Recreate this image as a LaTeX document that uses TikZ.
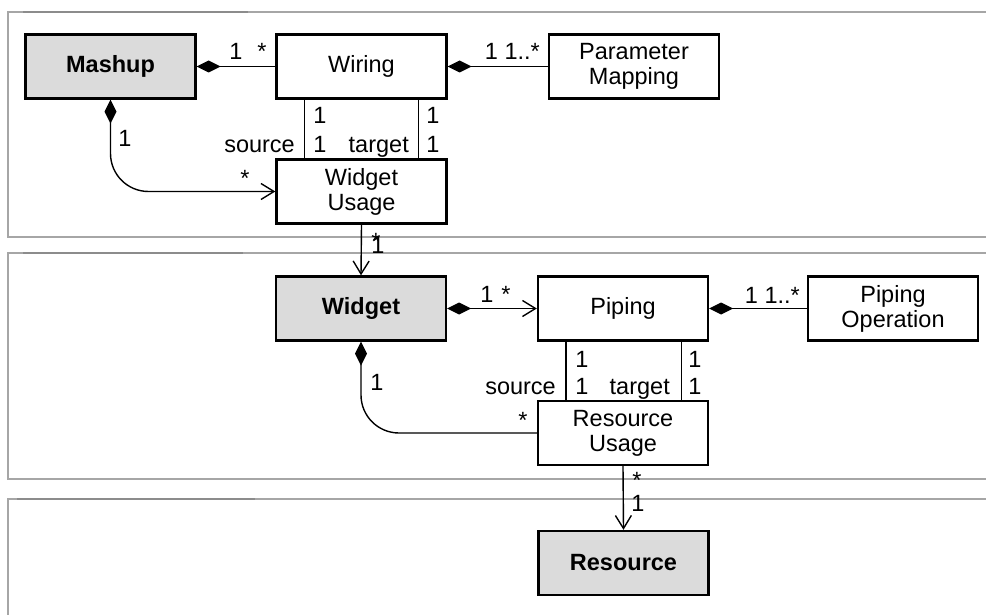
\documentclass[tikz,border=0pt]{standalone}
\usepackage{fontspec}
\setmainfont{Liberation Sans}
\usetikzlibrary{arrows.meta}
\begin{document}
\begin{tikzpicture}[
x=1pt,y=-1pt,
font=\fontsize{23.5}{25}\selectfont,
umlbox/.style={draw,line width=2.4pt,minimum width=170pt,minimum height=64pt,align=center,inner sep=0pt},
corebox/.style={umlbox,fill=black!14,font=\fontsize{23.5}{25}\selectfont\bfseries},
mult/.style={anchor=base,inner sep=0pt},
role/.style={anchor=base east,inner sep=0pt},
assoc/.style={line width=1.4pt},
comp/.style={assoc,{Diamond[length=24pt,width=12pt]}-},
nav/.style={assoc,-{Straight Barb[length=13pt,width=16pt]}},
compnav/.style={assoc,{Diamond[length=24pt,width=12pt]}-{Straight Barb[length=13pt,width=16pt]}},
panel/.style={line width=2pt,black!35},
tab/.style={line width=2.4pt,black!45},
]
\useasboundingbox(0,0)rectangle(986,615);
%layers
\draw[panel](986,12)-|(8,237)--(986,237);
\draw[panel](986,253)-|(8,479)--(986,479);
\draw[panel](986,499)-|(8,620);
\draw[tab](23,12)--(248,12);
\draw[tab](23,253)--(243,253);
\draw[tab](17,499)--(255,499);

%classes
\node[corebox](mashup)at(110.5,66.5){Mashup};
\node[umlbox](wiring)at(361.5,66.5){Wiring};
\node[umlbox](parmap)at(634,66.5){Parameter\\Mapping};
\node[umlbox](wusage)at(361.5,191.5){Widget\\Usage};
\node[corebox](widget)at(361,308.5){Widget};
\node[umlbox](piping)at(623,308.5){Piping};
\node[umlbox](pipop)at(893,308.5){Piping\\Operation};
\node[umlbox](rusage)at(623,433){Resource\\Usage};
\node[corebox](resource)at(623.5,563){Resource};

%mashup layer
\draw[comp](mashup)--(wiring);
\node[mult](mwa)at(236,60){1};
\node[mult](mwb)at(262,60){*};
\draw[comp](wiring)--(parmap);
\node[role](wpa)at(540,60){1 1..*};
\draw[assoc]([xshift=29pt]wiring.south west)--([xshift=29pt]wusage.north west);
\node[mult](wsa)at(320,124){1};
\node[mult](wsb)at(320,153){1};
\node[role](wsrc)at(295,153){source};
\draw[assoc]([xshift=-29pt]wiring.south east)--([xshift=-29pt]wusage.north east);
\node[mult](wta)at(433,124){1};
\node[mult](wtb)at(433,153){1};
\node[role](wtgt)at(409,153){target};
\draw[compnav,rounded corners=38pt](mashup.south)|-(wusage.west);
\node[mult](mua)at(125,147){1};
\node[mult](mub)at(245,187){*};
\draw[nav](wusage.south)--(widget.north);
\node[mult](uwa)at(376,249){*};
\node[mult](uwb)at(378,254){1};

%widget layer
\draw[compnav](widget)--(piping);
\node[mult](wpia)at(487,302){1};
\node[mult](wpib)at(506,302){*};
\draw[comp](piping)--(pipop);
\node[role](popa)at(800,303){1 1..*};
\draw[assoc]([xshift=29pt]piping.south west)--([xshift=29pt]rusage.north west);
\node[mult](psa)at(582,367){1};
\node[mult](psb)at(582,394){1};
\node[role](psrc)at(556,394){source};
\draw[assoc]([xshift=-28pt]piping.south east)--([xshift=-28pt]rusage.north east);
\node[mult](pta)at(695,367){1};
\node[mult](ptb)at(695,394){1};
\node[role](ptgt)at(670,394){target};
\draw[comp,rounded corners=38pt](widget.south)|-(rusage.west);
\node[mult](wra)at(377,390){1};
\node[mult](wrb)at(523,428){*};

%resource layer
\draw[nav](rusage.south)--(resource.north);
\node[mult](rra)at(637,488){*};
\node[mult](rrb)at(638,511){1};
\end{tikzpicture}
\end{document}
